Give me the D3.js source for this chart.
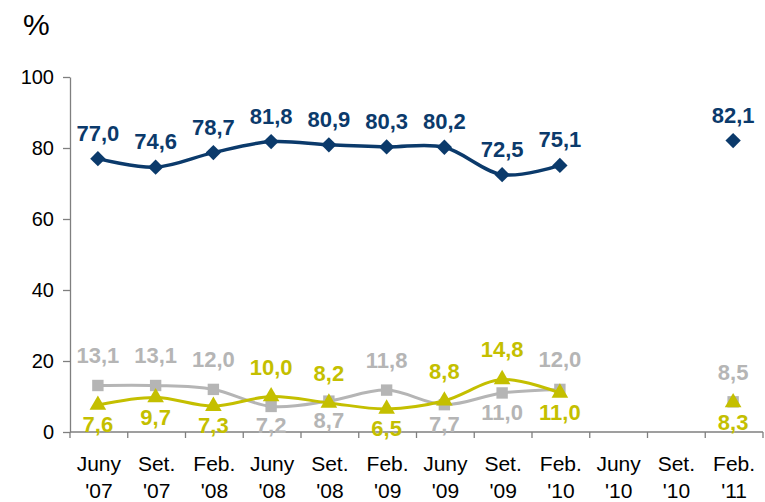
<!DOCTYPE html>
<html lang="en">
<head>
<meta charset="UTF-8">
<title>Survey trend</title>
<script src="https://d3js.org/d3.v7.min.js"></script>
<style>
  body { margin: 0; background: #fff; }
  svg { display: block; font-family: "Liberation Sans", Arial, sans-serif; }
</style>
</head>
<body>
<svg width="765" height="502"></svg>
<script>
// categories (two-line labels)
const months = ["Juny", "Set.", "Feb.", "Juny", "Set.", "Feb.", "Juny", "Set.", "Feb.", "Juny", "Set.", "Feb."];
const years  = ["'07", "'07", "'08", "'08", "'08", "'09", "'09", "'09", "'10", "'10", "'10", "'11"];

// series values (null = no survey)
const blueVals   = [77.0, 74.6, 78.7, 81.8, 80.9, 80.3, 80.2, 72.5, 75.1, null, null, 82.1];
const grayVals   = [13.1, 13.1, 12.0, 7.2, 8.7, 11.8, 7.7, 11.0, 12.0, null, null, 8.5];
const yellowVals = [7.6, 9.7, 7.3, 10.0, 8.2, 6.5, 8.8, 14.8, 11.0, null, null, 8.3];

// label placement: 1 = above, -1 = below
const grayPos   = [1, 1, 1, -1, -1, 1, -1, -1, 1, 0, 0, 1];
const yellowPos = [-1, -1, -1, 1, 1, -1, 1, 1, -1, 0, 0, -1];

const yTicks = [0, 20, 40, 60, 80, 100];

const svg = d3.select("svg");
const mLeft = 70, mRight = 763, mTop = 77, mBottom = 432;

const x = d3.scaleBand().domain(d3.range(months.length)).range([mLeft, mRight]);
const y = d3.scaleLinear().domain([0, 100]).range([mBottom, mTop]);
const cx = i => x(i) + x.bandwidth() / 2 - 1;

// y axis
const yAxis = svg.append("g")
  .attr("transform", `translate(${mLeft},0)`)
  .call(d3.axisLeft(y).tickValues(yTicks).tickSize(7).tickPadding(9).tickSizeOuter(0));
yAxis.select(".domain").attr("stroke", "#7f7f7f").attr("stroke-width", 1.3);
yAxis.selectAll(".tick line").attr("stroke", "#7f7f7f").attr("stroke-width", 1.3);
yAxis.selectAll(".tick text").attr("font-size", 20).attr("fill", "#000")
  .attr("font-family", "Liberation Sans, Arial, sans-serif");

// x axis: ticks at category boundaries
const xg = svg.append("g");
xg.append("line").attr("x1", mLeft).attr("x2", mRight).attr("y1", mBottom).attr("y2", mBottom)
  .attr("stroke", "#7f7f7f").attr("stroke-width", 1.3);
xg.selectAll("line.tk").data(d3.range(months.length + 1)).join("line")
  .attr("class", "tk")
  .attr("x1", i => i < months.length ? x(i) : mRight)
  .attr("x2", i => i < months.length ? x(i) : mRight)
  .attr("y1", mBottom).attr("y2", mBottom + 6)
  .attr("stroke", "#7f7f7f").attr("stroke-width", 1.3);
const xl = xg.selectAll("text.xl").data(months).join("text")
  .attr("class", "xl")
  .attr("text-anchor", "middle")
  .attr("font-size", 21)
  .attr("x", (d, i) => cx(i) + 1);
xl.append("tspan").attr("y", 471).text(d => d);
xl.append("tspan").attr("y", 498).attr("x", (d, i) => cx(i) + 1).text((d, i) => years[i]);

// unit label
svg.append("text").attr("x", 23).attr("y", 35).attr("font-size", 30).text("%");

const fmt = v => v.toFixed(1).replace(".", ",");

function drawSeries(vals, color, width, symbol, size) {
  const line = d3.line()
    .defined(d => d != null)
    .x((d, i) => cx(i))
    .y(d => y(d))
    .curve(d3.curveCatmullRom.alpha(0));
  const g = svg.append("g");
  g.append("path").datum(vals)
    .attr("d", line)
    .attr("fill", "none")
    .attr("stroke", color)
    .attr("stroke-width", width)
    .attr("stroke-linejoin", "round");
  const pts = vals.map((v, i) => ({ v, i })).filter(d => d.v != null);
  g.selectAll("path.m").data(pts).join("path")
    .attr("class", "m")
    .attr("transform", d => `translate(${cx(d.i)},${y(d.v)})`)
    .attr("d", d3.symbol().type(symbol).size(size))
    .attr("fill", color);
  return pts;
}

function drawLabels(pts, color, pos, offUp, offDown) {
  svg.append("g").selectAll("text").data(pts).join("text")
    .attr("x", d => cx(d.i))
    .attr("y", d => pos[d.i] > 0 ? y(d.v) - offUp : y(d.v) + offDown)
    .attr("text-anchor", "middle")
    .attr("font-size", 22)
    .attr("font-weight", "bold")
    .attr("fill", color)
    .text(d => fmt(d.v));
}

const navy = "#0b3a6b", gray = "#b5b5b5", yellow = "#c4bf00";

const bPts = drawSeries(blueVals, navy, 3.5, d3.symbolDiamond2, 150);
const gPts = drawSeries(grayVals, gray, 3, d3.symbolSquare, 130);
const yPts = drawSeries(yellowVals, yellow, 3, d3.symbolTriangle, 120);

drawLabels(bPts, navy, blueVals.map(() => 1), 18, 0);
drawLabels(gPts, gray, grayPos, 22, 27);
drawLabels(yPts, yellow, yellowPos, 22, 27);
</script>
</body>
</html>
